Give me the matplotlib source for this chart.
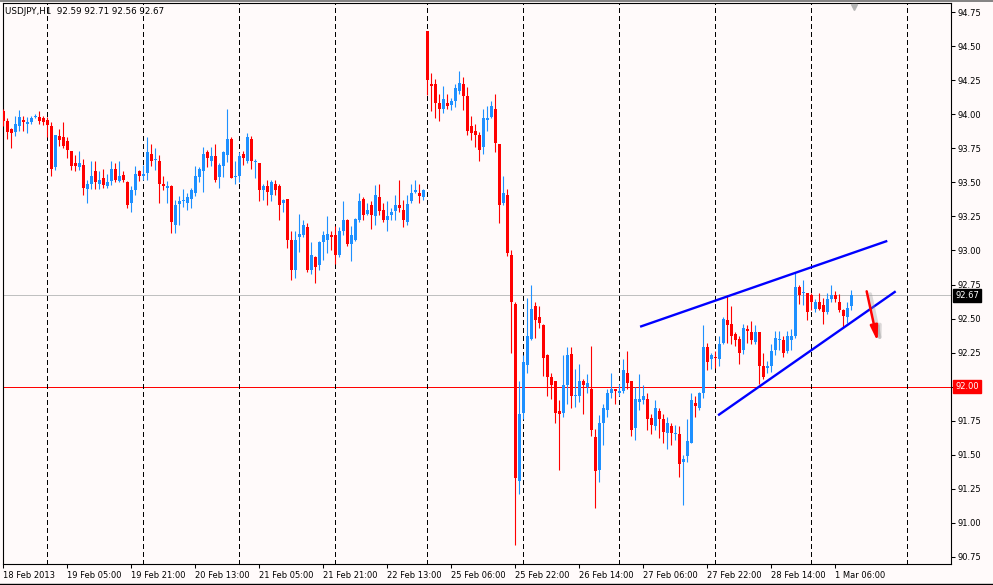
import matplotlib
matplotlib.use('Agg')
import matplotlib.pyplot as plt
import matplotlib.transforms as mtransforms
import numpy as np

# USDJPY H1 bars, 18 Feb 2013 13:00 .. 1 Mar 2013 10:00
opens = [94.02, 93.95, 93.89, 93.87, 93.91, 93.96, 93.93, 93.94, 93.98, 93.98,
         93.97, 93.96, 93.91, 93.61, 93.84, 93.83, 93.80, 93.73, 93.64, 93.61,
         93.63, 93.45, 93.49, 93.58, 93.49, 93.53, 93.47, 93.51, 93.60, 93.51,
         93.55, 93.50, 93.35, 93.44, 93.58, 93.55, 93.57, 93.71, 93.665, 93.66,
         93.49, 93.46, 93.47, 93.19, 93.34, 93.36, 93.35, 93.38, 93.42, 93.54,
         93.58, 93.72, 93.66, 93.69, 93.54, 93.62, 93.70, 93.82, 93.54, 93.55,
         93.71, 93.66, 93.82, 93.65, 93.64, 93.44, 93.47, 93.41, 93.49, 93.47,
         93.35, 93.38, 93.08, 92.86, 93.10, 93.11, 93.17, 92.86, 92.95, 92.89,
         93.06, 93.08, 93.11, 93.11, 92.97, 93.14, 93.22, 93.05, 93.08, 93.22,
         93.38, 93.27, 93.33, 93.25, 93.39, 93.30, 93.22, 93.26, 93.29, 93.33,
         93.30, 93.21, 93.36, 93.43, 93.42, 93.39, 94.61, 94.22, 94.22, 94.08,
         94.04, 94.08, 94.07, 94.10, 94.17, 94.22, 94.13, 93.91, 93.88, 93.85,
         93.76, 93.96, 93.98, 94.04, 93.78, 93.35, 93.41, 92.97, 92.61, 91.31,
         91.81, 92.16, 92.35, 92.59, 92.51, 92.45, 92.23, 92.07, 92.04, 91.82,
         91.81, 92.01, 92.24, 91.935, 91.93, 92.04, 92.00, 91.98, 91.63, 91.39,
         91.73, 91.83, 91.95, 91.98, 91.955, 91.97, 92.10, 92.04, 91.70, 91.89,
         91.90, 91.91, 91.77, 91.71, 91.82, 91.76, 91.66, 91.71, 91.65, 91.65,
         91.45, 91.49, 91.59, 91.88, 91.84, 91.95, 92.29, 92.20, 92.22, 92.20,
         92.32, 92.49, 92.46, 92.39, 92.35, 92.27, 92.42, 92.40, 92.33, 92.40,
         92.15, 92.14, 92.15, 92.27, 92.34, 92.34, 92.26, 92.34, 92.37, 92.73,
         92.685, 92.69, 92.67, 92.57, 92.62, 92.60, 92.55, 92.64, 92.67, 92.62,
         92.56, 92.51, 92.59]
highs = [94.04, 93.97, 93.90, 93.99, 94.03, 93.99, 93.98, 93.99, 94.00, 94.02,
         93.99, 93.98, 93.94, 93.85, 93.89, 93.94, 93.83, 93.73, 93.70, 93.73,
         93.67, 93.52, 93.66, 93.66, 93.58, 93.60, 93.56, 93.66, 93.64, 93.66,
         93.58, 93.51, 93.47, 93.62, 93.59, 93.63, 93.83, 93.78, 93.75, 93.70,
         93.55, 93.51, 93.48, 93.37, 93.40, 93.45, 93.42, 93.46, 93.62, 93.61,
         93.76, 93.74, 93.76, 93.78, 93.64, 93.73, 94.04, 93.83, 93.66, 93.72,
         93.73, 93.86, 93.84, 93.67, 93.64, 93.49, 93.52, 93.52, 93.52, 93.49,
         93.38, 93.38, 93.14, 93.14, 93.27, 93.22, 93.20, 93.06, 92.96, 93.07,
         93.14, 93.25, 93.14, 93.18, 93.17, 93.36, 93.23, 93.18, 93.24, 93.42,
         93.39, 93.35, 93.36, 93.48, 93.49, 93.35, 93.36, 93.31, 93.41, 93.52,
         93.37, 93.41, 93.49, 93.52, 93.49, 93.45, 94.61, 94.30, 94.26, 94.15,
         94.21, 94.15, 94.12, 94.22, 94.32, 94.27, 94.20, 93.99, 93.93, 93.87,
         94.04, 94.06, 94.10, 94.15, 93.78, 93.55, 93.45, 93.00, 92.62, 92.04,
         92.23, 92.65, 92.75, 92.62, 92.59, 92.46, 92.24, 92.10, 92.04, 91.90,
         92.23, 92.29, 92.29, 92.13, 92.17, 92.06, 92.09, 92.30, 91.69, 91.79,
         91.87, 91.98, 92.10, 91.98, 92.02, 92.20, 92.26, 92.04, 92.00, 92.09,
         92.01, 91.95, 91.80, 91.90, 91.84, 91.80, 91.78, 91.73, 91.72, 91.71,
         91.50, 91.76, 91.95, 91.93, 91.96, 92.45, 92.32, 92.25, 92.26, 92.37,
         92.51, 92.67, 92.59, 92.40, 92.37, 92.46, 92.45, 92.48, 92.45, 92.40,
         92.25, 92.19, 92.31, 92.41, 92.41, 92.37, 92.41, 92.42, 92.84, 92.75,
         92.78, 92.69, 92.69, 92.64, 92.69, 92.65, 92.69, 92.75, 92.70, 92.68,
         92.57, 92.62, 92.71]
lows = [93.91, 93.82, 93.75, 93.84, 93.88, 93.88, 93.86, 93.93, 93.97, 93.93,
        93.92, 93.83, 93.55, 93.59, 93.77, 93.75, 93.68, 93.59, 93.58, 93.59,
        93.41, 93.35, 93.45, 93.45, 93.45, 93.46, 93.46, 93.48, 93.50, 93.50,
        93.50, 93.31, 93.28, 93.41, 93.51, 93.52, 93.52, 93.62, 93.59, 93.35,
        93.44, 93.35, 93.13, 93.13, 93.19, 93.32, 93.30, 93.31, 93.40, 93.50,
        93.43, 93.61, 93.62, 93.50, 93.46, 93.54, 93.65, 93.53, 93.49, 93.50,
        93.63, 93.64, 93.60, 93.53, 93.36, 93.37, 93.33, 93.36, 93.41, 93.22,
        93.28, 93.02, 92.78, 92.80, 92.99, 93.10, 92.84, 92.83, 92.76, 92.86,
        92.93, 92.98, 93.00, 92.90, 92.95, 93.11, 93.03, 92.92, 93.07, 93.21,
        93.22, 93.26, 93.16, 93.19, 93.26, 93.21, 93.14, 93.22, 93.22, 93.28,
        93.17, 93.19, 93.35, 93.42, 93.35, 93.37, 94.14, 94.02, 93.97, 93.95,
        94.01, 94.04, 94.03, 94.05, 94.15, 94.03, 93.85, 93.81, 93.76, 93.66,
        93.71, 93.88, 93.97, 93.72, 93.20, 93.33, 92.96, 92.25, 90.84, 91.21,
        91.76, 92.10, 92.34, 92.36, 92.43, 92.08, 91.93, 91.91, 91.73, 91.39,
        91.78, 91.87, 91.84, 91.85, 91.89, 91.80, 91.95, 91.64, 91.11, 91.30,
        91.57, 91.78, 91.92, 91.87, 91.93, 91.95, 91.98, 91.64, 91.61, 91.83,
        91.87, 91.68, 91.65, 91.68, 91.62, 91.59, 91.54, 91.57, 91.61, 91.34,
        91.13, 91.45, 91.59, 91.78, 91.83, 91.92, 92.12, 92.13, 92.14, 92.15,
        92.31, 92.32, 92.31, 92.30, 92.17, 92.24, 92.32, 92.31, 92.31, 92.02,
        92.06, 92.10, 92.11, 92.23, 92.27, 92.22, 92.25, 92.27, 92.36, 92.61,
        92.60, 92.49, 92.56, 92.55, 92.56, 92.46, 92.53, 92.62, 92.62, 92.55,
        92.43, 92.47, 92.56]
closes = [93.95, 93.87, 93.86, 93.93, 93.98, 93.94, 93.94, 93.97, 93.99, 93.95,
          93.94, 93.92, 93.60, 93.85, 93.81, 93.77, 93.74, 93.62, 93.62, 93.64,
          93.46, 93.49, 93.55, 93.50, 93.52, 93.48, 93.50, 93.60, 93.52, 93.55,
          93.52, 93.33, 93.44, 93.56, 93.55, 93.56, 93.72, 93.66, 93.67, 93.49,
          93.47, 93.47, 93.21, 93.33, 93.36, 93.37, 93.39, 93.44, 93.55, 93.60,
          93.71, 93.68, 93.69, 93.52, 93.63, 93.72, 93.82, 93.53, 93.55, 93.69,
          93.68, 93.83, 93.66, 93.66, 93.44, 93.47, 93.43, 93.50, 93.44, 93.33,
          93.37, 93.08, 92.86, 93.08, 93.12, 93.19, 92.86, 92.97, 92.88, 93.06,
          93.11, 93.12, 93.10, 92.97, 93.14, 93.22, 93.05, 93.11, 93.23, 93.36,
          93.26, 93.30, 93.26, 93.41, 93.29, 93.22, 93.25, 93.28, 93.33, 93.31,
          93.22, 93.34, 93.42, 93.44, 93.40, 93.44, 94.25, 94.21, 94.08, 94.04,
          94.11, 94.06, 94.10, 94.19, 94.23, 94.13, 93.88, 93.86, 93.85, 93.74,
          93.97, 93.97, 94.06, 93.79, 93.33, 93.42, 92.98, 92.62, 91.33, 91.80,
          92.18, 92.37, 92.57, 92.49, 92.47, 92.21, 92.07, 92.01, 91.81, 91.80,
          92.01, 92.23, 91.93, 91.94, 92.04, 92.01, 92.03, 91.68, 91.38, 91.73,
          91.84, 91.95, 91.98, 91.97, 91.965, 92.12, 92.03, 91.68, 91.91, 91.91,
          91.93, 91.76, 91.72, 91.84, 91.76, 91.67, 91.73, 91.66, 91.66, 91.43,
          91.47, 91.60, 91.90, 91.86, 91.95, 92.29, 92.18, 92.23, 92.21, 92.31,
          92.50, 92.45, 92.37, 92.34, 92.25, 92.43, 92.41, 92.34, 92.40, 92.15,
          92.07, 92.15, 92.26, 92.36, 92.35, 92.25, 92.37, 92.37, 92.73, 92.67,
          92.69, 92.55, 92.62, 92.62, 92.57, 92.55, 92.64, 92.67, 92.64, 92.56,
          92.52, 92.58, 92.67]

# bar index of each day start (dashed separators)
day_starts = [11, 35, 59, 83, 106, 130, 154, 178, 202, 226]
x_tick_pos = [0, 16, 32, 48, 64, 80, 96, 112, 128, 144, 160, 176, 192, 208]
x_tick_labels = ['18 Feb 2013', '19 Feb 05:00', '19 Feb 21:00', '20 Feb 13:00',
                 '21 Feb 05:00', '21 Feb 21:00', '22 Feb 13:00', '25 Feb 06:00',
                 '25 Feb 22:00', '26 Feb 14:00', '27 Feb 06:00', '27 Feb 22:00',
                 '28 Feb 14:00', '1 Mar 06:00']
y_ticks = [90.75, 91.00, 91.25, 91.50, 91.75, 92.00, 92.25, 92.50,
           92.75, 93.00, 93.25, 93.50, 93.75, 94.00, 94.25, 94.50, 94.75]

# hand drawn objects (bar index, price)
upper_line = ([159.2, 221.0], [92.44, 93.07])
lower_line = ([178.7, 223.1], [91.79, 92.70])
arrow_from = (215.85, 92.70)
arrow_to = (218.6, 92.33)
bid_level = 92.67
alert_level = 92.00

# the alert label covers the normal 92.00 scale label
y_tick_labels = ['' if v == alert_level else '%.2f' % v for v in y_ticks]

BG = '#fffafa'
BULL = '#1e90ff'
BEAR = '#ff0000'
W, H = 993, 585

plt.rcParams['font.family'] = ['DejaVu Sans']
plt.rcParams['lines.scale_dashes'] = False

fig = plt.figure(figsize=(W / 100, H / 100), dpi=100, facecolor=BG)
ax = fig.add_axes([2.7 / W, (H - 564) / H, (951 - 2.7) / W, (564 - 3.3) / H])
ax.set_facecolor(BG)

o = np.array(opens)
hi = np.array(highs)
lo = np.array(lows)
c = np.array(closes)
idx = np.arange(len(c))
cols = np.where(c >= o, BULL, BEAR)

ax.axhline(bid_level, color='#c0c0c0', lw=0.6, zorder=1, antialiased=False)
ax.axhline(alert_level, color='#ff0000', lw=0.6, zorder=1, antialiased=False)
for d in day_starts:
    ax.axvline(d, color='black', lw=0.75, ls=(0, (3, 2.2)), zorder=2,
               antialiased=False)

ax.vlines(idx, lo, hi, colors=cols, lw=0.8, zorder=3)
ax.bar(idx, np.maximum(np.abs(c - o), 0.007), bottom=np.minimum(o, c),
       width=0.75, color=cols, lw=0, zorder=4)

ax.plot(*upper_line, color='#0000ff', lw=1.7, zorder=5, solid_capstyle='butt')
ax.plot(*lower_line, color='#0000ff', lw=1.7, zorder=5, solid_capstyle='butt')

# arrow with a soft shadow
ax.annotate('', xy=(arrow_to[0] + 0.9, arrow_to[1] - 0.02),
            xytext=(arrow_from[0] + 0.9, arrow_from[1] - 0.02),
            arrowprops=dict(arrowstyle='-|>,head_length=0.9,head_width=0.22',
                            color='#999999', alpha=0.35, lw=2.5,
                            shrinkA=0, shrinkB=0), zorder=5)
ax.annotate('', xy=arrow_to, xytext=arrow_from,
            arrowprops=dict(arrowstyle='-|>,head_length=0.9,head_width=0.22',
                            color='#ff0000', lw=1.8, shrinkA=0, shrinkB=0),
            zorder=6)

ax.set_xlim(-0.15, 236.93)
ax.set_ylim(94.75 - 552 / 136.25, 94.75 + 8.7 / 136.25)

ax.yaxis.tick_right()
ax.set_yticks(y_ticks)
ax.set_yticklabels(y_tick_labels)
ax.set_xticks(x_tick_pos)
ax.set_xticklabels(x_tick_labels, ha='left')
ax.tick_params(axis='both', direction='out', length=3, width=0.75,
               labelsize=6, colors='black')
ax.tick_params(axis='y', pad=1.5)
ax.tick_params(axis='x', pad=2)
for s in ax.spines.values():
    s.set_color('black')
    s.set_linewidth(0.8)

# price labels on the right scale
ytr = mtransforms.blended_transform_factory(ax.transAxes, ax.transData)
ax.text(1.0045, bid_level, '%.2f' % bid_level, transform=ytr, va='center',
        ha='left', fontsize=6, color='white', zorder=10,
        bbox=dict(facecolor='black', edgecolor='black', pad=1.6))
ax.text(1.0045, alert_level, '%.2f' % alert_level, transform=ytr, va='center',
        ha='left', fontsize=6, color='white', zorder=10,
        bbox=dict(facecolor='#ff0000', edgecolor='#ff0000', pad=1.6))

# chart shift marker at the top
xtr = mtransforms.blended_transform_factory(ax.transData, ax.transAxes)
ax.plot([212.7], [0.994], marker='v', ms=5, color='#b4b4b4', transform=xtr,
        clip_on=False, zorder=10)

fig.text(5 / W, 1 - 11 / H, 'USDJPY,H1  92.59 92.71 92.56 92.67',
         fontsize=6.3, va='center', ha='left', color='black')

fig.add_artist(plt.Line2D([0, 1], [1 - 0.7 / H, 1 - 0.7 / H],
                          transform=fig.transFigure, color='#6e6e6e', lw=1.2))
fig.add_artist(plt.Line2D([0, 1], [1 - 583.5 / H, 1 - 583.5 / H],
                          transform=fig.transFigure, color='black', lw=1.0))

fig.savefig('out.png', dpi=100, facecolor=BG)
